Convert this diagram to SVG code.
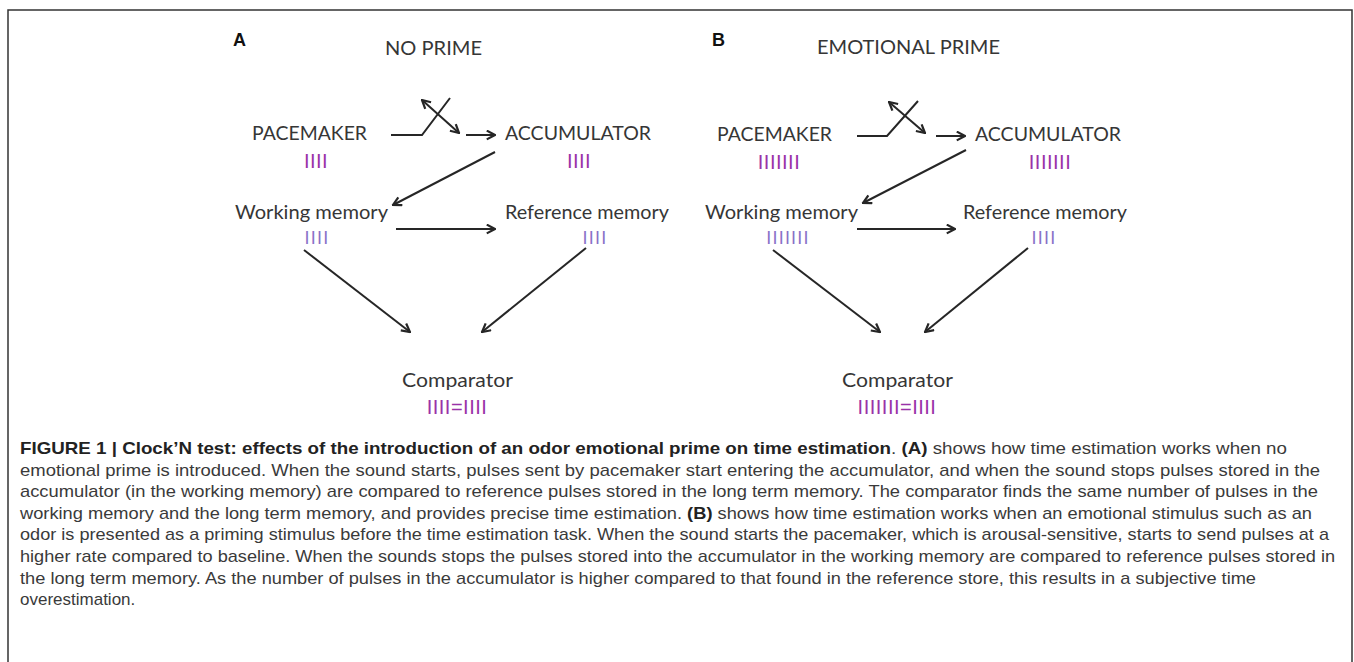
<svg xmlns="http://www.w3.org/2000/svg" width="1354" height="662" viewBox="0 0 1354 662">
<style>
.lbl{font-family:Lato,"Liberation Sans",sans-serif;font-size:20px;fill:#363636}
.sm{font-size:19px}
.pl{font-family:"Liberation Sans",Arial,sans-serif;font-weight:bold;font-size:18px;fill:#111}
.bar{font-family:"Liberation Sans",Arial,sans-serif;font-size:20px;letter-spacing:0.5px;fill:#9a32a8;text-anchor:middle}
.barl{font-family:"Liberation Sans",Arial,sans-serif;font-size:18px;letter-spacing:1.2px;fill:#8a70c8;text-anchor:middle}
.ln{fill:none;stroke:#262626;stroke-width:2}
.cap{font-family:"Liberation Sans",Arial,sans-serif;font-size:17px;fill:#3a3a3a}
.b{font-weight:bold;fill:#222}
</style>
<defs>
<marker id="ah" viewBox="0 0 10 10" refX="9" refY="5" markerWidth="11" markerHeight="11" orient="auto-start-reverse" markerUnits="userSpaceOnUse">
<path d="M1.5,1 L9,5 L1.5,9" fill="none" stroke="#262626" stroke-width="2"/>
</marker>
</defs>
<rect width="1354" height="662" fill="#fff"/>
<path d="M8,662 V10 H1352 V662" fill="none" stroke="#333" stroke-width="1.5"/>

<g id="panelA-titles">
<text class="pl" x="233" y="46">A</text>
<text class="lbl" x="385" y="55" textLength="97" lengthAdjust="spacingAndGlyphs">NO PRIME</text>
</g>
<g id="A-pacemaker">
<text class="lbl" x="252" y="140" textLength="115" lengthAdjust="spacingAndGlyphs">PACEMAKER</text>
<text class="bar" x="316" y="168">IIII</text>
</g>
<g id="A-accumulator">
<text class="lbl" x="505" y="140" textLength="146" lengthAdjust="spacingAndGlyphs">ACCUMULATOR</text>
<text class="bar" x="579" y="168">IIII</text>
</g>
<g id="A-working">
<text class="lbl sm" x="235" y="219" textLength="153" lengthAdjust="spacingAndGlyphs">Working memory</text>
<text class="barl" x="317" y="244">IIII</text>
</g>
<g id="A-reference">
<text class="lbl sm" x="505" y="219" textLength="164" lengthAdjust="spacingAndGlyphs">Reference memory</text>
<text class="barl" x="595" y="244">IIII</text>
</g>
<g id="A-comparator">
<text class="lbl" x="402" y="387" textLength="111" lengthAdjust="spacingAndGlyphs">Comparator</text>
<text class="bar" x="457" y="414">IIII=IIII</text>
</g>

<g id="panelB-titles">
<text class="pl" x="712" y="46">B</text>
<text class="lbl" x="817" y="54" textLength="183" lengthAdjust="spacingAndGlyphs">EMOTIONAL PRIME</text>
</g>
<g id="B-pacemaker">
<text class="lbl" x="717" y="141" textLength="115" lengthAdjust="spacingAndGlyphs">PACEMAKER</text>
<text class="bar" x="779" y="169">IIIIIII</text>
</g>
<g id="B-accumulator">
<text class="lbl" x="975" y="141" textLength="146" lengthAdjust="spacingAndGlyphs">ACCUMULATOR</text>
<text class="bar" x="1050" y="169">IIIIIII</text>
</g>
<g id="B-working">
<text class="lbl sm" x="705" y="219" textLength="153" lengthAdjust="spacingAndGlyphs">Working memory</text>
<text class="barl" x="788" y="244">IIIIIII</text>
</g>
<g id="B-reference">
<text class="lbl sm" x="963" y="219" textLength="164" lengthAdjust="spacingAndGlyphs">Reference memory</text>
<text class="barl" x="1044" y="244">IIII</text>
</g>
<g id="B-comparator">
<text class="lbl" x="842" y="387" textLength="111" lengthAdjust="spacingAndGlyphs">Comparator</text>
<text class="bar" x="897" y="414">IIIIIII=IIII</text>
</g>

<g id="connectors">
<polyline class="ln" points="391,135 422,135 450,98"/>
<line class="ln" x1="422" y1="100" x2="459" y2="133" marker-start="url(#ah)" marker-end="url(#ah)"/>
<line class="ln" x1="466" y1="135" x2="495" y2="135" marker-end="url(#ah)"/>
<line class="ln" x1="495" y1="152" x2="393" y2="205" marker-end="url(#ah)"/>
<line class="ln" x1="396" y1="229" x2="495" y2="229" marker-end="url(#ah)"/>
<line class="ln" x1="304" y1="250" x2="410" y2="332" marker-end="url(#ah)"/>
<line class="ln" x1="586" y1="248" x2="482" y2="332" marker-end="url(#ah)"/>

<polyline class="ln" points="857,136 887,136 918,101"/>
<line class="ln" x1="889" y1="102" x2="925" y2="133" marker-start="url(#ah)" marker-end="url(#ah)"/>
<line class="ln" x1="936" y1="136" x2="965" y2="136" marker-end="url(#ah)"/>
<line class="ln" x1="966" y1="150" x2="863" y2="203" marker-end="url(#ah)"/>
<line class="ln" x1="857" y1="229" x2="955" y2="229" marker-end="url(#ah)"/>
<line class="ln" x1="773" y1="250" x2="880" y2="332" marker-end="url(#ah)"/>
<line class="ln" x1="1028" y1="248" x2="925" y2="332" marker-end="url(#ah)"/>
</g>

<g id="caption">
<text class="cap" x="20" y="454" textLength="1267" lengthAdjust="spacingAndGlyphs"><tspan class="b">FIGURE 1 | Clock’N test: effects of the introduction of an odor emotional prime on time estimation</tspan>. <tspan class="b">(A)</tspan> shows how time estimation works when no</text>
<text class="cap" x="20" y="475.6" textLength="1300" lengthAdjust="spacingAndGlyphs">emotional prime is introduced. When the sound starts, pulses sent by pacemaker start entering the accumulator, and when the sound stops pulses stored in the</text>
<text class="cap" x="20" y="497.2" textLength="1298" lengthAdjust="spacingAndGlyphs">accumulator (in the working memory) are compared to reference pulses stored in the long term memory. The comparator finds the same number of pulses in the</text>
<text class="cap" x="20" y="518.8" textLength="1292" lengthAdjust="spacingAndGlyphs">working memory and the long term memory, and provides precise time estimation. <tspan class="b">(B)</tspan> shows how time estimation works when an emotional stimulus such as an</text>
<text class="cap" x="20" y="540.4" textLength="1309" lengthAdjust="spacingAndGlyphs">odor is presented as a priming stimulus before the time estimation task. When the sound starts the pacemaker, which is arousal-sensitive, starts to send pulses at a</text>
<text class="cap" x="20" y="562" textLength="1315" lengthAdjust="spacingAndGlyphs">higher rate compared to baseline. When the sounds stops the pulses stored into the accumulator in the working memory are compared to reference pulses stored in</text>
<text class="cap" x="20" y="583.6" textLength="1236" lengthAdjust="spacingAndGlyphs">the long term memory. As the number of pulses in the accumulator is higher compared to that found in the reference store, this results in a subjective time</text>
<text class="cap" x="20" y="605.2">overestimation.</text>
</g>
</svg>
